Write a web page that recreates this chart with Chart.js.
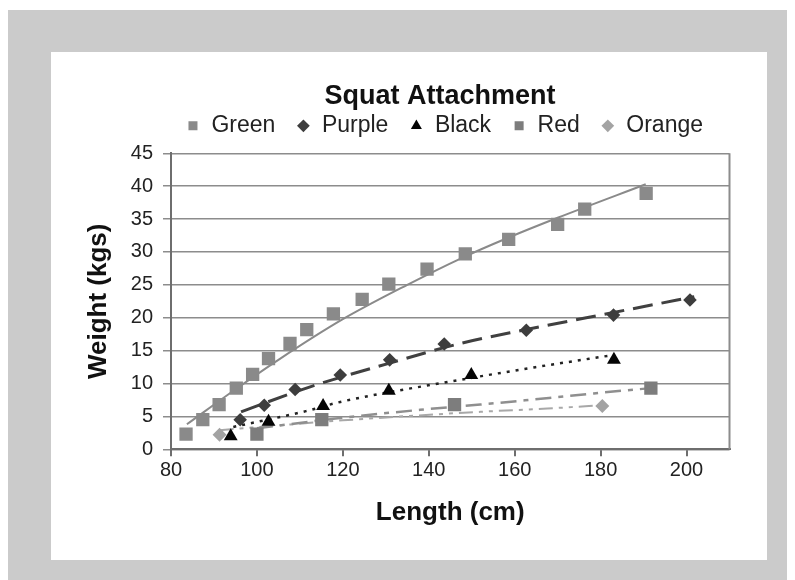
<!DOCTYPE html>
<html>
<head>
<meta charset="utf-8">
<title>Squat Attachment</title>
<script src="https://cdn.jsdelivr.net/npm/chart.js@4.4.0/dist/chart.umd.min.js"></script>
<style>
    html, body { margin: 0; padding: 0; background: #fff; }
    #frame { position: absolute; left: 8px; top: 10px; width: 779px; height: 570px; background: #cbcbcb; }
    #panel { position: absolute; left: 51px; top: 52px; width: 716px; height: 508px; background: #fff; }
    #wrap { position: absolute; left: 0; top: 0; width: 795px; height: 580px; }
</style>
</head>
<body>
<div id="frame"></div>
<div id="panel"></div>
<div id="wrap"><canvas id="chart" width="795" height="580"></canvas></div>
<script>
// measured points (length cm / weight kgs)
var greenX  = [83.5, 87.4, 91.2, 95.2, 99.0, 102.7, 107.7, 111.6, 117.8, 124.5, 130.7, 139.6, 148.5, 158.6, 170.0, 176.3, 190.6];
var greenY  = [2.3, 4.5, 6.8, 9.3, 11.4, 13.8, 16.1, 18.2, 20.6, 22.8, 25.1, 27.4, 29.7, 31.9, 34.2, 36.5, 38.9];
var purpleX = [96.1, 101.7, 108.9, 119.4, 130.9, 143.6, 162.7, 183.0, 200.8];
var purpleY = [4.5, 6.7, 9.1, 11.3, 13.6, 16.0, 18.1, 20.4, 22.7];
var blackX  = [93.9, 102.7, 115.4, 130.7, 149.9, 183.1];
var blackY  = [2.0, 4.2, 6.6, 8.9, 11.3, 13.6];
var redX    = [100.0, 115.1, 146.0, 191.7];
var redY    = [2.3, 4.5, 6.8, 9.3];
var orangeX = [91.3, 180.4];
var orangeY = [2.2, 6.6];

// trend lines
var greenTrendX  = [83.7, 95.2, 105.0, 119.8, 135.0, 147.4, 158.6, 170.0, 190.5];
var greenTrendY  = [3.8, 9.2, 13.6, 19.7, 25.0, 29.0, 32.2, 35.2, 40.3];
var purpleTrendX = [96.3, 112.4, 130.9, 147.4, 162.7, 183.0, 201.8];
var purpleTrendY = [5.7, 9.5, 13.1, 16.1, 18.2, 20.8, 23.2];
var blackTrendX  = [94.5, 111.4, 119.4, 145.0, 165.0, 181.6];
var blackTrendY  = [3.4, 5.8, 7.2, 10.3, 12.5, 14.2];
var redTrendX    = [100.0, 120.0, 138.0, 152.0, 168.0, 178.4, 191.7];
var redTrendY    = [3.2, 4.8, 6.0, 6.8, 7.8, 8.5, 9.3];
var orangeTrendX = [91.3, 106.2, 120.0, 152.0, 167.6, 180.4];
var orangeTrendY = [2.9, 3.7, 4.4, 5.7, 6.2, 6.7];

var xMin = 80, xMax = 210, xStep = 20;
var yMin = 0, yMax = 45, yStep = 5;

function pts(xs, ys) {
    return xs.map(function(x, i) { return {x: x, y: ys[i]}; });
}

var font = "'Liberation Sans', Arial, sans-serif";
var gridColor = '#8c8c8c';
var axisColor = '#6e6e6e';

function marker(label, xs, ys, style, color, r) {
    return {
        label: label,
        data: pts(xs, ys),
        pointStyle: style,
        pointRadius: r,
        pointHoverRadius: r,
        pointBackgroundColor: color,
        backgroundColor: color,
        borderColor: color,
        pointBorderWidth: 0,
        borderWidth: 0,
        showLine: false,
        order: 0
    };
}

function trend(label, xs, ys, color, width, dash) {
    return {
        label: label,
        data: pts(xs, ys),
        showLine: true,
        pointRadius: 0,
        pointHoverRadius: 0,
        borderColor: color,
        backgroundColor: color,
        borderWidth: width,
        borderDash: dash,
        cubicInterpolationMode: 'monotone',
        fill: false,
        order: 1
    };
}

// nudge title / legend to where the original sits
var nudge = {
    id: 'nudge',
    afterLayout: function(chart) {
        var t = chart.titleBlock, l = chart.legend;
        var dx = 440 - (t.left + t.right) / 2;
        t.left += dx; t.right += dx; t.top += 13; t.bottom += 13;
        var lx = 444.5 - (l.left + l.right) / 2;
        l.left += lx; l.right += lx; l.top -= 6; l.bottom -= 6;
    }
};

// right-hand border of the plot area
var plotFrame = {
    id: 'plotFrame',
    beforeDatasetsDraw: function(chart) {
        var a = chart.chartArea, ctx = chart.ctx;
        ctx.save();
        ctx.strokeStyle = gridColor;
        ctx.lineWidth = 2;
        ctx.beginPath();
        ctx.moveTo(a.right, a.top);
        ctx.lineTo(a.right, a.bottom);
        ctx.stroke();
        ctx.restore();
    }
};

var ctx = document.getElementById('chart').getContext('2d');
var chart = new Chart(ctx, {
    type: 'scatter',
    data: {
        datasets: [
            marker('Green', greenX, greenY, 'rect', '#8a8a8a', 9.4),
            marker('Purple', purpleX, purpleY, 'rectRot', '#3d3d3d', 6.8),
            marker('Black', blackX, blackY, 'triangle', '#050505', 8),
            marker('Red', redX, redY, 'rect', '#7d7d7d', 9.4),
            marker('Orange', orangeX, orangeY, 'rectRot', '#a3a3a3', 7),
            trend('Green trend', greenTrendX, greenTrendY, '#8a8a8a', 2, []),
            trend('Purple trend', purpleTrendX, purpleTrendY, '#404040', 3, [20, 9]),
            trend('Black trend', blackTrendX, blackTrendY, '#222222', 2.5, [3, 6]),
            trend('Red trend', redTrendX, redTrendY, '#8f8f8f', 2.5, [16, 7, 5, 7]),
            trend('Orange trend', orangeTrendX, orangeTrendY, '#a8a8a8', 2, [14, 6, 4, 6, 4, 6])
        ]
    },
    options: {
        responsive: false,
        animation: false,
        devicePixelRatio: 1,
        layout: {
            padding: {left: 70, right: 65.5, top: 66.9, bottom: 51.4}
        },
        plugins: {
            tooltip: {enabled: false},
            title: {
                display: true,
                text: 'Squat Attachment',
                color: '#111',
                font: {family: font, size: 27, weight: 'bold'},
                padding: 0
            },
            legend: {
                position: 'top',
                labels: {
                    usePointStyle: true,
                    boxWidth: 14,
                    boxHeight: 9,
                    padding: 21,
                    color: '#222',
                    font: {family: font, size: 23},
                    filter: function(item) { return item.text.indexOf('trend') < 0; }
                }
            }
        },
        scales: {
            x: {
                type: 'linear',
                min: xMin,
                max: xMax,
                afterFit: function(scale) { scale.height = 79.3; },
                ticks: {
                    stepSize: xStep,
                    includeBounds: false,
                    padding: 2,
                    color: '#222',
                    font: {family: font, size: 20}
                },
                grid: {
                    drawOnChartArea: false,
                    drawTicks: true,
                    tickLength: 7,
                    color: axisColor,
                    lineWidth: 2
                },
                border: {color: axisColor, width: 2},
                title: {
                    display: true,
                    text: 'Length (cm)',
                    color: '#111',
                    font: {family: font, size: 26, weight: 'bold'},
                    padding: {top: 13, bottom: 0}
                }
            },
            y: {
                type: 'linear',
                min: yMin,
                max: yMax,
                afterFit: function(scale) { scale.width = 101; },
                ticks: {
                    stepSize: yStep,
                    padding: 10,
                    color: '#222',
                    font: {family: font, size: 20}
                },
                grid: {
                    color: gridColor,
                    lineWidth: 1.5,
                    tickLength: 8
                },
                border: {color: axisColor, width: 2},
                title: {
                    display: true,
                    text: 'Weight (kgs)',
                    color: '#111',
                    font: {family: font, size: 26, weight: 'bold'},
                    padding: {top: 13.4, bottom: 6}
                }
            }
        }
    },
    plugins: [nudge, plotFrame]
});
</script>
</body>
</html>
